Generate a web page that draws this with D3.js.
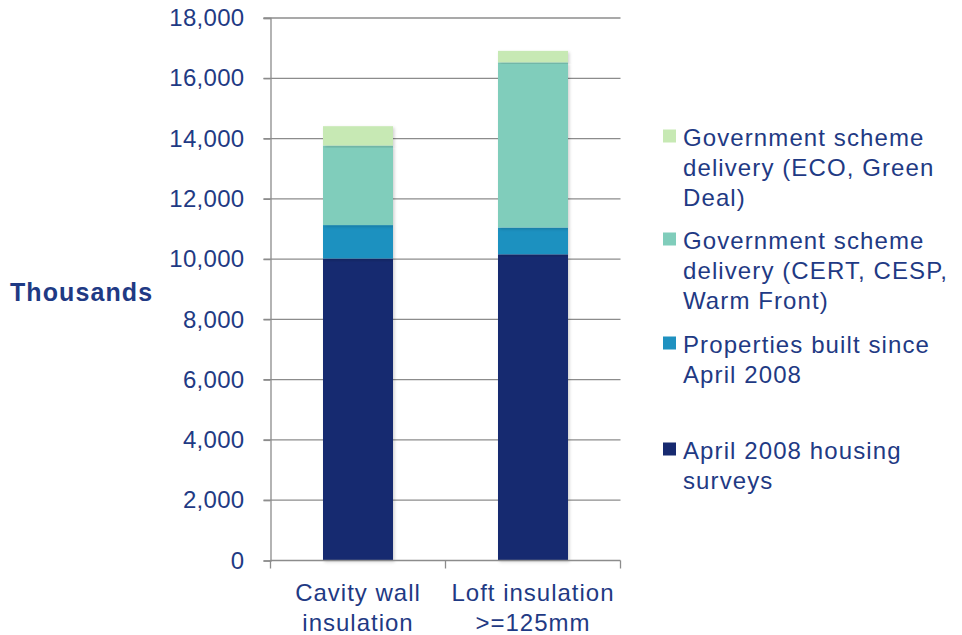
<!DOCTYPE html>
<html>
<head>
<meta charset="utf-8">
<script src="https://cdn.jsdelivr.net/npm/d3@7"></script>
<style>
  body { margin: 0; background: #fff; }
  text { font-family: "Liberation Sans", Arial, sans-serif; fill: #1f3a84; }
</style>
</head>
<body>
<div id="chart"></div>
<script>
const categories = [["Cavity wall", "insulation"], ["Loft insulation", ">=125mm"]];
const seriesNames = [
  "April 2008 housing surveys",
  "Properties built since April 2008",
  "Government scheme delivery (CERT, CESP, Warm Front)",
  "Government scheme delivery (ECO, Green Deal)"
];
const housingSurveys = [10020, 10160];
const builtSince2008 = [1110, 890];
const certCespWarmFront = [2640, 5480];
const ecoGreenDeal = [640, 380];
const yTicks = [0, 2000, 4000, 6000, 8000, 10000, 12000, 14000, 16000, 18000];
const legendLines = [
  ["Government scheme", "delivery (ECO, Green", "Deal)"],
  ["Government scheme", "delivery (CERT, CESP,", "Warm Front)"],
  ["Properties built since", "April 2008"],
  ["April 2008 housing", "surveys"]
];
const colors = ["#172a70", "#1f91c0", "#80cdbb", "#c7e9b4"];

const W = 962, H = 635;
const margin = { top: 18, right: 342, bottom: 74.5, left: 270.5 };

const svg = d3.select("#chart").append("svg")
  .attr("width", W).attr("height", H);

const defs = svg.append("defs");
defs.append("filter").attr("id", "shadow")
  .attr("x", "-10%").attr("y", "-10%").attr("width", "130%").attr("height", "120%")
  .append("feDropShadow")
  .attr("dx", 1.5).attr("dy", 1.5).attr("stdDeviation", 1.5)
  .attr("flood-color", "#000").attr("flood-opacity", 0.18);

const keys = categories.map((c, i) => i);
const table = keys.map(i => ({
  cat: i,
  s0: housingSurveys[i],
  s1: builtSince2008[i],
  s2: certCespWarmFront[i],
  s3: ecoGreenDeal[i]
}));
const stack = d3.stack().keys(["s0", "s1", "s2", "s3"])(table);

const x = d3.scaleBand()
  .domain(keys)
  .range([margin.left, W - margin.right + 0.5])
  .padding(0);

const y = d3.scaleLinear()
  .domain([0, 18000])
  .range([H - margin.bottom, margin.top]);

const barW = x.bandwidth() * 0.4;

// gridlines
svg.append("g")
  .selectAll("line")
  .data(yTicks.filter(d => d > 0))
  .join("line")
  .attr("x1", margin.left - 7)
  .attr("x2", x.range()[1])
  .attr("y1", d => y(d)).attr("y2", d => y(d))
  .attr("stroke", "#8c8c8c").attr("stroke-width", 1.3);

// y axis
const yAxis = svg.append("g")
  .attr("transform", `translate(${margin.left},0)`)
  .call(d3.axisLeft(y).tickValues(yTicks).tickFormat(d3.format(",")).tickSize(7).tickPadding(19));
yAxis.select(".domain").attr("stroke", "#8c8c8c").attr("stroke-width", 1.3);
yAxis.selectAll(".tick line").attr("stroke", "#8c8c8c").attr("stroke-width", 1.3);
yAxis.selectAll(".tick text")
  .attr("font-size", 24).attr("fill", "#1f3a84")
  .style("letter-spacing", "0.3px")
  .style("font-family", "'Liberation Sans', Arial, sans-serif");

// bars
svg.append("g").selectAll("g")
  .data(stack)
  .join("g")
  .attr("fill", (d, i) => colors[i])
  .selectAll("rect")
  .data(d => d)
  .join("rect")
  .attr("x", d => x(d.data.cat) + (x.bandwidth() - barW) / 2)
  .attr("width", barW)
  .attr("y", d => y(d[1]))
  .attr("height", d => y(d[0]) - y(d[1]))
  .attr("filter", "url(#shadow)");

// x axis
const x0 = y(0);
const xg = svg.append("g");
xg.append("line")
  .attr("x1", margin.left).attr("x2", x.range()[1])
  .attr("y1", x0).attr("y2", x0)
  .attr("stroke", "#8c8c8c").attr("stroke-width", 1.3);
const bounds = keys.map(k => x(k)).concat([x.range()[1]]);
xg.selectAll(".xt")
  .data(bounds)
  .join("line")
  .attr("x1", d => d).attr("x2", d => d)
  .attr("y1", x0).attr("y2", x0 + 8)
  .attr("stroke", "#8c8c8c").attr("stroke-width", 1.3);
xg.selectAll(".xl")
  .data(keys)
  .join("text")
  .attr("text-anchor", "middle")
  .attr("font-size", 24)
  .style("letter-spacing", "1px")
  .attr("x", d => x(d) + x.bandwidth() / 2)
  .attr("y", x0 + 40.5)
  .selectAll("tspan")
  .data(d => categories[d])
  .join("tspan")
  .attr("x", function() { return d3.select(this.parentNode).attr("x"); })
  .attr("dy", (d, i) => i === 0 ? 0 : 30)
  .text(d => d);

// y label
svg.append("text")
  .attr("x", 10).attr("y", 301)
  .attr("font-size", 25).attr("font-weight", "bold")
  .style("letter-spacing", "1.1px")
  .attr("fill", "#1a2f7a")
  .text("Thousands");

// legend
const legendTop = [129.5, 232.5, 336.5, 442.5];
const legend = svg.append("g");
legendLines.forEach((lines, i) => {
  const g = legend.append("g").attr("transform", `translate(663,${legendTop[i]})`);
  g.append("rect").attr("width", 13).attr("height", 13).attr("fill", colors[3 - i]);
  const t = g.append("text").attr("x", 20).attr("y", 16).attr("font-size", 24)
    .style("letter-spacing", "1.1px");
  t.selectAll("tspan").data(lines).join("tspan")
    .attr("x", 20).attr("dy", (d, j) => j === 0 ? 0 : 30).text(d => d);
});
</script>
</body>
</html>
